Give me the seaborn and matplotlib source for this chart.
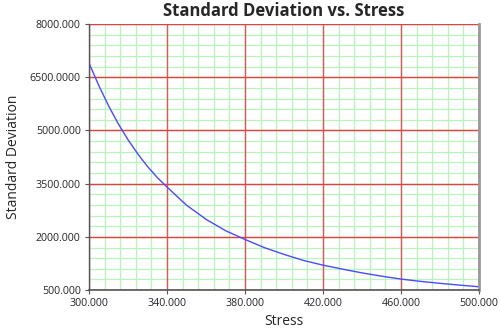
import matplotlib
matplotlib.use("Agg")
import matplotlib.pyplot as plt
from matplotlib.ticker import FixedLocator, FixedFormatter
import numpy as np
import seaborn as sns
import pandas as pd

stress = [300, 305, 310, 315, 320, 325, 330, 335, 340, 350, 360, 370, 380, 390, 400,
          410, 420, 430, 440, 450, 460, 470, 480, 490, 500]
std_dev = [6900, 6270, 5700, 5190, 4740, 4340, 3985, 3675, 3405, 2894, 2496, 2175, 1927, 1695, 1506,
           1335, 1203, 1090, 985, 892, 810, 745, 690, 640, 593]
y_ticks = [500, 2000, 3500, 5000, 6500, 8000]
y_tick_labels = ["500.000", "2000.000", "3500.000", "5000.000", "6500.0000", "8000.000"]
x_ticks = [300, 340, 380, 420, 460, 500]
x_tick_labels = ["300.000", "340.000", "380.000", "420.000", "460.000", "500.000"]

df = pd.DataFrame({"Stress": stress, "Standard Deviation": std_dev})

sns.set_style("white")
plt.rcParams["font.family"] = ["Open Sans", "DejaVu Sans"]

fig = plt.figure(figsize=(5.0, 3.3), dpi=100)
ax = fig.add_axes([0.178, 0.121, 0.780, 0.806])

ax.set_xlim(x_ticks[0], x_ticks[-1])
ax.set_ylim(y_ticks[0], y_ticks[-1])

ax.xaxis.set_major_locator(FixedLocator(x_ticks))
ax.xaxis.set_major_formatter(FixedFormatter(x_tick_labels))
ax.yaxis.set_major_locator(FixedLocator(y_ticks))
ax.yaxis.set_major_formatter(FixedFormatter(y_tick_labels))

x_minor = np.linspace(x_ticks[0], x_ticks[-1], (len(x_ticks) - 1) * 5 + 1)
y_minor = np.linspace(y_ticks[0], y_ticks[-1], (len(y_ticks) - 1) * 5 + 1)
for xv in x_minor:
    ax.axvline(xv, color="#b8f5b8", linewidth=0.9, zorder=0.5)
for yv in y_minor:
    ax.axhline(yv, color="#b8f5b8", linewidth=0.9, zorder=0.5)
for xv in x_ticks:
    ax.axvline(xv, color="#e05555", linewidth=1.0, zorder=1)
for yv in y_ticks:
    ax.axhline(yv, color="#e04040", linewidth=1.0, zorder=1)

sns.lineplot(data=df, x="Stress", y="Standard Deviation", ax=ax,
             color="#4a4aff", linewidth=1.0, zorder=3)

ax.spines["top"].set_visible(False)
ax.spines["left"].set_color("#555555")
ax.spines["left"].set_linewidth(1.0)
ax.spines["bottom"].set_color("#555555")
ax.spines["bottom"].set_linewidth(1.2)
ax.spines["right"].set_color("#999999")
ax.spines["right"].set_linewidth(2.0)
for sp in ax.spines.values():
    sp.set_zorder(4)

ax.tick_params(axis="both", which="major", labelsize=7.7, length=3,
               width=0.8, color="#555555", pad=3, direction="out",
               bottom=True, left=True)

ax.set_xlabel("Stress", fontsize=10, labelpad=3)
ax.set_ylabel("Standard Deviation", fontsize=10, labelpad=6)
ax.set_title("Standard Deviation vs. Stress", fontsize=12, fontweight="bold", pad=6)

fig.savefig("out.png", dpi=100)
